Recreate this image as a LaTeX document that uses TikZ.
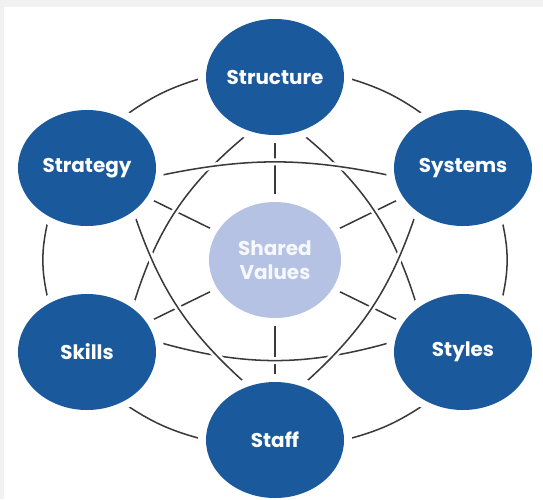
\documentclass[tikz,border=0pt]{standalone}
\usepackage{fontspec}
\newfontfamily\labelfont{Poppins}
\usetikzlibrary{shapes.geometric,backgrounds}

\definecolor{sevblue}{HTML}{1A5A9C}
\definecolor{sevlilac}{HTML}{B5C2E3}
\definecolor{sevline}{HTML}{3A3A3A}
\definecolor{sevpaper}{HTML}{F1F1F1}

\begin{document}
\begin{tikzpicture}[
  sbox/.style={ellipse, fill=#1, inner sep=0pt,
    minimum width=4.14cm, minimum height=3.48cm,
    preaction={draw=white, line width=0.48cm},
    font=\labelfont\bfseries\fontsize{17}{20}\selectfont,
    text=white, align=center},
  link/.style={draw=sevline, line width=1.3pt},
  cross/.style={link, preaction={draw=white, line width=6pt}}
]
  \useasboundingbox (-8.25,-7.17) rectangle (8.04,7.8);

  % the seven elements
  \node[sbox=sevlilac, minimum width=3.96cm, text=white!88!sevlilac] (shared) at (0,0) {Shared\\Values};
  \node[sbox=sevblue] (structure) at (0,5.49) {Structure};
  \node[sbox=sevblue] (strategy) at (-5.64,2.76) {Strategy};
  \node[sbox=sevblue] (systems) at (5.64,2.76) {Systems};
  \node[sbox=sevblue] (skills) at (-5.64,-2.76) {Skills};
  \node[sbox=sevblue] (styles) at (5.64,-2.76) {Styles};
  \node[sbox=sevblue] (staff) at (0,-5.4) {Staff};

  \begin{scope}[on background layer]
    \fill[sevpaper] (-8.25,-7.17) rectangle (8.04,7.8);
    \fill[white] (-8.13,-7.17) rectangle (8.04,7.59);

    % spokes to the centre
    \foreach \n in {structure,systems,styles,staff,skills,strategy}
      \draw[link] (shared) -- (\n);

    % outer ring
    \draw[link] (structure.east) to[bend left=10] (systems.125);
    \draw[link] (systems.308) to[bend left=14] (styles.52);
    \draw[link] (staff.east) to[bend right=10] (styles.235);
    \draw[link] (skills.305) to[bend right=10] (staff.west);
    \draw[link] (strategy.232) to[bend right=14] (skills.128);
    \draw[link] (structure.west) to[bend right=10] (strategy.55);

    % long arcs, later ones pass over earlier ones
    \draw[cross] (structure.246) to[bend right=17] (skills.44);
    \draw[cross] (structure.294) to[bend left=17] (styles.136);
    \draw[cross] (strategy.-7) to[bend left=12] (systems.187);
    \draw[cross] (skills.9) to[bend right=16] (styles.171);
    \draw[cross] (strategy.-43) to[bend right=15] (staff.116);
    \draw[cross] (systems.223) to[bend left=15] (staff.64);
  \end{scope}
\end{tikzpicture}
\end{document}
